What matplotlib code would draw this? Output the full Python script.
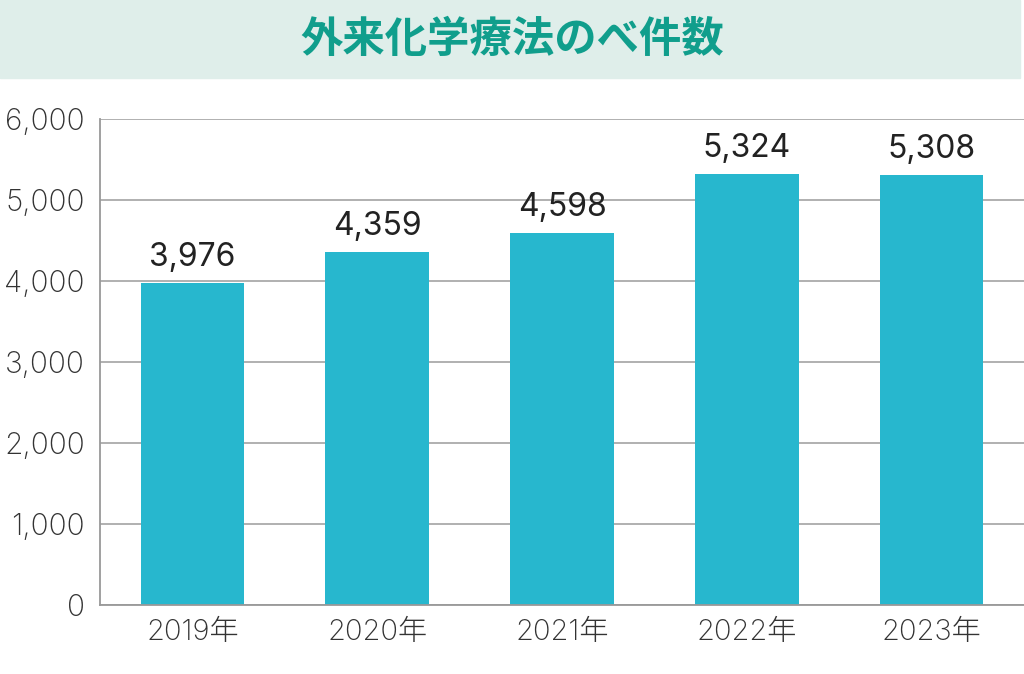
import matplotlib.pyplot as plt
from matplotlib.patches import Rectangle

# data
years = ['2019年', '2020年', '2021年', '2022年', '2023年']
counts = [3976, 4359, 4598, 5324, 5308]
y_ticks = [0, 1000, 2000, 3000, 4000, 5000, 6000]

plt.rcParams['font.family'] = ['Inter', 'Noto Sans CJK JP', 'DejaVu Sans']

fig = plt.figure(figsize=(10.24, 6.74), dpi=100)

# title band
fig.patches.append(Rectangle((0, 1 - 78 / 674), 1020 / 1024, 78 / 674,
                             transform=fig.transFigure, color='#DFEEEA', zorder=0))
fig.text(0.5, 1 - 40 / 674, '外来化学療法のべ件数', ha='center', va='center',
         fontsize=30.5, fontweight='bold', color='#109E8C',
         family=['Noto Sans CJK JP', 'DejaVu Sans'])

ax = fig.add_axes([100 / 1024, 69 / 674, 924 / 1024, 486 / 674])
x = range(len(years))
bars = ax.bar(x, counts, width=0.56, color='#27B7CE', zorder=2)

for xi, v in zip(x, counts):
    ax.text(xi, v + 120, f'{v:,}', ha='center', va='bottom',
            fontsize=23, color='#222222')

ax.set_xlim(-0.5, 4.5)
ax.set_ylim(0, 6000)
ax.set_yticks(y_ticks)
ax.set_yticklabels([f'{t:,}' for t in y_ticks], fontweight='light', fontsize=21.5)
ax.set_xticks(list(x))
ax.set_xticklabels(years, fontweight='light', fontsize=21)
ax.tick_params(axis='both', length=0, colors='#333333')
ax.tick_params(axis='y', pad=11)
ax.tick_params(axis='x', pad=10)
ax.grid(axis='y', color='#AAAAAA', linewidth=1.3, zorder=1)
for s in ['top', 'right']:
    ax.spines[s].set_visible(False)
for s in ['left', 'bottom']:
    ax.spines[s].set_color('#999999')
    ax.spines[s].set_linewidth(1.3)

fig.savefig('out.png', dpi=100)
